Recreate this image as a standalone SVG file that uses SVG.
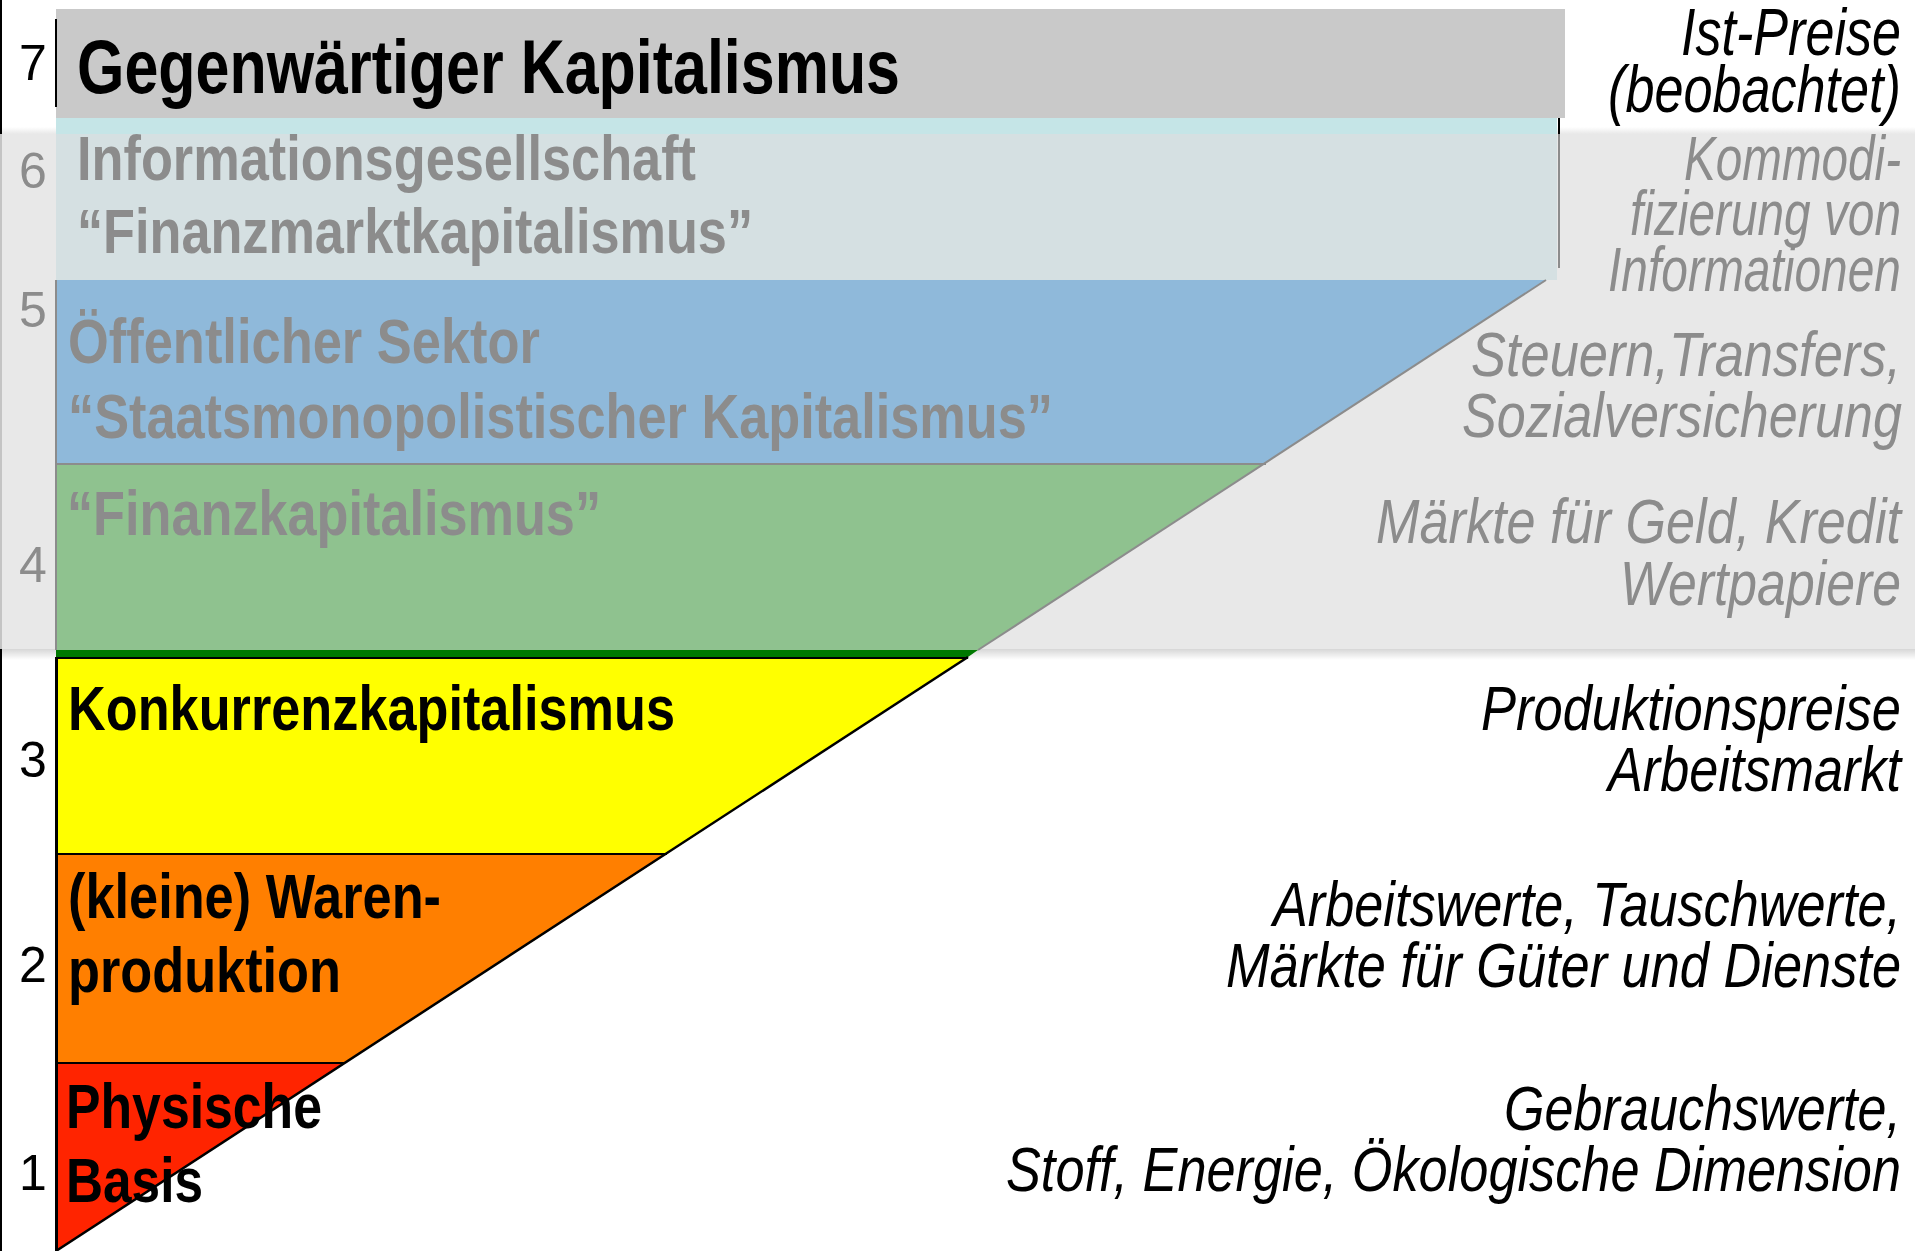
<svg xmlns="http://www.w3.org/2000/svg" width="1915" height="1251" viewBox="0 0 1915 1251">
<style>
.lt{font-family:"Liberation Sans Narrow","Liberation Sans",Arial,sans-serif;font-weight:bold;font-size:63px;}
.big{font-size:76px;}
.rt{font-family:"Liberation Sans Narrow","Liberation Sans",Arial,sans-serif;font-style:italic;font-size:63px;}
.rtb{font-size:66px;}
.num{font-family:"Liberation Sans",Arial,sans-serif;font-size:50px;text-anchor:middle;}
.k{fill:#000;}
.g{fill:#8c8c8c;}
</style>
<defs>
<linearGradient id="topfade" x1="0" y1="0" x2="0" y2="1">
<stop offset="0" stop-color="#e8e8e8" stop-opacity="0"/>
<stop offset="1" stop-color="#e8e8e8" stop-opacity="1"/>
</linearGradient>
<linearGradient id="shadow" x1="0" y1="0" x2="0" y2="1">
<stop offset="0" stop-color="#000" stop-opacity="0.16"/>
<stop offset="1" stop-color="#000" stop-opacity="0"/>
</linearGradient>
</defs>
<rect x="0" y="0" width="1915" height="1251" fill="#fff"/>

<g id="layer7">
<rect x="56" y="9" width="1509" height="109" fill="#c9c9c9"/>
<line x1="56" y1="19" x2="56" y2="107" stroke="#000" stroke-width="2"/>
<text class="num k" x="33" y="80">7</text>
<text class="lt big k" x="77" y="93" textLength="823" lengthAdjust="spacingAndGlyphs">Gegenwärtiger Kapitalismus</text>
<text class="rt rtb k" x="1681" y="55" textLength="220" lengthAdjust="spacingAndGlyphs">Ist-Preise</text>
<text class="rt rtb k" x="1608" y="112" textLength="293" lengthAdjust="spacingAndGlyphs">(beobachtet)</text>
</g>

<g id="overlay">
<rect x="0" y="127" width="1915" height="7" fill="url(#topfade)"/>
<rect x="0" y="134" width="1915" height="515" fill="#e8e8e8"/>
<rect x="0" y="649" width="1915" height="11" fill="url(#shadow)"/>
</g>

<g id="layer6">
<rect x="56" y="134" width="1501" height="146" fill="#d5e0e2"/>
<text class="num g" x="33" y="188">6</text>
<text class="lt g" x="77" y="180" textLength="619" lengthAdjust="spacingAndGlyphs">Informationsgesellschaft</text>
<text class="lt g" x="77" y="253" textLength="676" lengthAdjust="spacingAndGlyphs">“Finanzmarktkapitalismus”</text>
<rect x="56" y="118" width="1501" height="16" fill="#c5e5e7"/>
<line x1="1559" y1="118" x2="1559" y2="134" stroke="#000" stroke-width="2"/>
<line x1="1559" y1="134" x2="1559" y2="268" stroke="#8c8c8c" stroke-width="2"/>
<text class="rt g" x="1684" y="180" textLength="217" lengthAdjust="spacingAndGlyphs">Kommodi-</text>
<text class="rt g" x="1630" y="235" textLength="271" lengthAdjust="spacingAndGlyphs">fizierung von</text>
<text class="rt g" x="1608" y="291" textLength="293" lengthAdjust="spacingAndGlyphs">Informationen</text>
</g>

<g id="layer5">
<polygon points="56,280 1546,280 1263,464 56,464" fill="#8fb9da"/>
<text class="num g" x="33" y="327">5</text>
<text class="lt g" x="68" y="363" textLength="472" lengthAdjust="spacingAndGlyphs">Öffentlicher Sektor</text>
<text class="lt g" x="68" y="438" textLength="985" lengthAdjust="spacingAndGlyphs">“Staatsmonopolistischer Kapitalismus”</text>
<text class="rt g" x="1471" y="376" textLength="430" lengthAdjust="spacingAndGlyphs">Steuern,Transfers,</text>
<text class="rt g" x="1462" y="437" textLength="440" lengthAdjust="spacingAndGlyphs">Sozialversicherung</text>
</g>

<g id="layer4">
<polygon points="56,464 1263,464 978,650 56,650" fill="#8fc28f"/>
<polygon points="56,650 978,650 968,657 56,657" fill="#007800"/>
<text class="num g" x="33" y="582">4</text>
<text class="lt g" x="67" y="535" textLength="534" lengthAdjust="spacingAndGlyphs">“Finanzkapitalismus”</text>
<text class="rt g" x="1376" y="543" textLength="525" lengthAdjust="spacingAndGlyphs">Märkte für Geld, Kredit</text>
<text class="rt g" x="1620" y="605" textLength="281" lengthAdjust="spacingAndGlyphs">Wertpapiere</text>
</g>

<g id="layer3">
<polygon points="56,657 968,657 667,854 56,854" fill="#ffff00"/>
</g>
<g id="layer2">
<polygon points="56,854 667,854 345,1063 56,1063" fill="#ff7f00"/>
</g>
<g id="layer1">
<polygon points="56,1063 345,1063 56,1251" fill="#ff2400"/>
</g>

<g id="connectors" fill="none" stroke-linecap="butt">
<line x1="1" y1="0" x2="1" y2="134" stroke="#000" stroke-width="2"/>
<line x1="1" y1="134" x2="1" y2="649" stroke="#c4c4c4" stroke-width="2"/>
<line x1="1" y1="649" x2="1" y2="1251" stroke="#000" stroke-width="2"/>
<line x1="56" y1="280" x2="56" y2="650" stroke="#8c8c8c" stroke-width="2"/>
<line x1="56" y1="464" x2="1266" y2="464" stroke="#8c8c8c" stroke-width="2"/>
<line x1="1546" y1="280" x2="978" y2="650" stroke="#8c8c8c" stroke-width="2"/>
<line x1="56" y1="658" x2="968" y2="658" stroke="#000" stroke-width="2"/>
<line x1="56" y1="854" x2="667" y2="854" stroke="#000" stroke-width="2"/>
<line x1="56" y1="1063" x2="345" y2="1063" stroke="#000" stroke-width="2"/>
<line x1="56" y1="1251" x2="968" y2="657" stroke="#000" stroke-width="2.5"/>
<line x1="56.5" y1="657" x2="56.5" y2="1251" stroke="#000" stroke-width="3"/>
</g>

<g id="layer3-text">
<text class="num k" x="33" y="777">3</text>
<text class="lt k" x="68" y="730" textLength="607" lengthAdjust="spacingAndGlyphs">Konkurrenzkapitalismus</text>
<text class="rt k" x="1481" y="730" textLength="420" lengthAdjust="spacingAndGlyphs">Produktionspreise</text>
<text class="rt k" x="1608" y="791" textLength="293" lengthAdjust="spacingAndGlyphs">Arbeitsmarkt</text>
</g>
<g id="layer2-text">
<text class="num k" x="33" y="982">2</text>
<text class="lt k" x="68" y="918" textLength="373" lengthAdjust="spacingAndGlyphs">(kleine) Waren-</text>
<text class="lt k" x="68" y="992" textLength="273" lengthAdjust="spacingAndGlyphs">produktion</text>
<text class="rt k" x="1273" y="926" textLength="628" lengthAdjust="spacingAndGlyphs">Arbeitswerte, Tauschwerte,</text>
<text class="rt k" x="1226" y="987" textLength="675" lengthAdjust="spacingAndGlyphs">Märkte für Güter und Dienste</text>
</g>
<g id="layer1-text">
<text class="num k" x="33" y="1190">1</text>
<text class="lt k" x="66" y="1128" textLength="256" lengthAdjust="spacingAndGlyphs">Physische</text>
<text class="lt k" x="66" y="1202" textLength="137" lengthAdjust="spacingAndGlyphs">Basis</text>
<text class="rt k" x="1504" y="1130" textLength="397" lengthAdjust="spacingAndGlyphs">Gebrauchswerte,</text>
<text class="rt k" x="1006" y="1191" textLength="895" lengthAdjust="spacingAndGlyphs">Stoff, Energie, Ökologische Dimension</text>
</g>
</svg>
